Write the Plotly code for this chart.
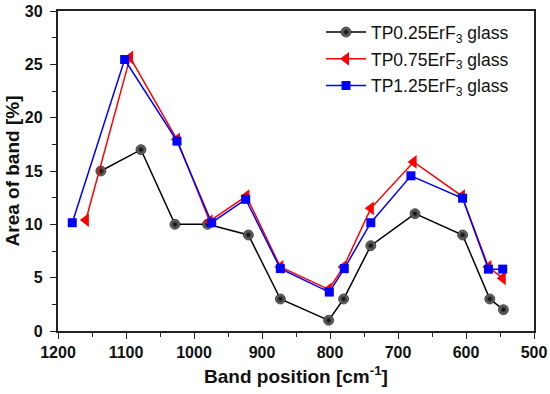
import plotly.graph_objects as go

x_black = [1137, 1078, 1028, 980, 920, 873, 802, 780, 740, 675, 605, 565, 545]
y_black = [15, 17, 10, 10, 9, 3, 1, 3, 8, 11, 9, 3, 2]

x_red = [1159, 1094, 1025, 977, 923, 873, 802, 780, 740, 677, 606, 567, 546]
y_red = [10.4, 25.65, 17.95, 10.3, 12.65, 6.0, 3.9, 6.0, 11.5, 15.85, 12.65, 6.0, 4.95]

x_blue = [1179, 1102, 1025, 974, 924, 873, 801, 779, 740, 681, 605, 567, 546]
y_blue = [10.15, 25.45, 17.8, 10.15, 12.35, 5.85, 3.65, 5.85, 10.15, 14.55, 12.45, 5.8, 5.8]

names = ["TP0.25ErF<sub>3</sub> glass", "TP0.75ErF<sub>3</sub> glass", "TP1.25ErF<sub>3</sub> glass"]

fig = go.Figure()
fig.add_trace(go.Scatter(
    x=x_black, y=y_black, mode="lines+markers", name=names[0], legendgroup="a",
    line=dict(color="black", width=1.5),
    marker=dict(symbol="circle", size=10, color="#808080",
                gradient=dict(type="radial", color="#000000"),
                line=dict(width=0.6, color="black")),
))
fig.add_trace(go.Scatter(
    x=x_red, y=y_red, mode="lines+markers", name=names[1], legendgroup="b",
    line=dict(color="#ff0000", width=1.5),
    marker=dict(symbol="triangle-left", size=12, color="#ff0000", line=dict(width=0)),
))
fig.add_trace(go.Scatter(
    x=x_blue, y=y_blue, mode="lines+markers", name=names[2], legendgroup="c",
    line=dict(color="#0000ff", width=1.5),
    marker=dict(symbol="square", size=9, color="#0000ff", line=dict(width=0)),
))

axis_common = dict(
    showline=True, linecolor="#222", linewidth=1.6, mirror=True,
    showgrid=False, zeroline=False, automargin=False,
    ticks="outside", ticklen=6, tickwidth=1.3, tickcolor="#222",
    ticklabeloverflow="allow",
    tickfont=dict(family="Liberation Sans, Arial", size=16, color="#111", weight="bold"),
)

fig.update_xaxes(
    range=[1200, 500], dtick=100, tick0=500,
    minor=dict(dtick=50, ticks="outside", ticklen=4, tickwidth=1.2, tickcolor="#222"),
    title=dict(text="<b>Band position [cm<sup>-1</sup>]</b>",
               font=dict(family="Liberation Sans, Arial", size=19, color="#111"),
               standoff=10),
    **axis_common,
)
fig.update_yaxes(
    range=[0, 30], dtick=5, tick0=0,
    minor=dict(dtick=2.5, ticks="outside", ticklen=4, tickwidth=1.2, tickcolor="#222"),
    ticksuffix="\u00a0",
    title=dict(text="<b>Area of band [%]</b>",
               font=dict(family="Liberation Sans, Arial", size=19, color="#111"),
               standoff=0),
    **axis_common,
)

fig.update_layout(
    width=550, height=394,
    margin=dict(l=58, r=16, t=11, b=63),
    paper_bgcolor="white", plot_bgcolor="white",
    showlegend=True,
    legend=dict(x=0.958, y=0.99, xanchor="right", yanchor="top",
                bgcolor="rgba(0,0,0,0)",
                font=dict(family="Liberation Sans, Arial", size=17.5, color="#111"),
                itemwidth=40, tracegroupgap=1),
)

# remove the browser's default 8px body margin so the figure sits at the window origin
fig.write_html("out.html", config={"displayModeBar": False},
               post_script="document.body.style.margin='0';")
